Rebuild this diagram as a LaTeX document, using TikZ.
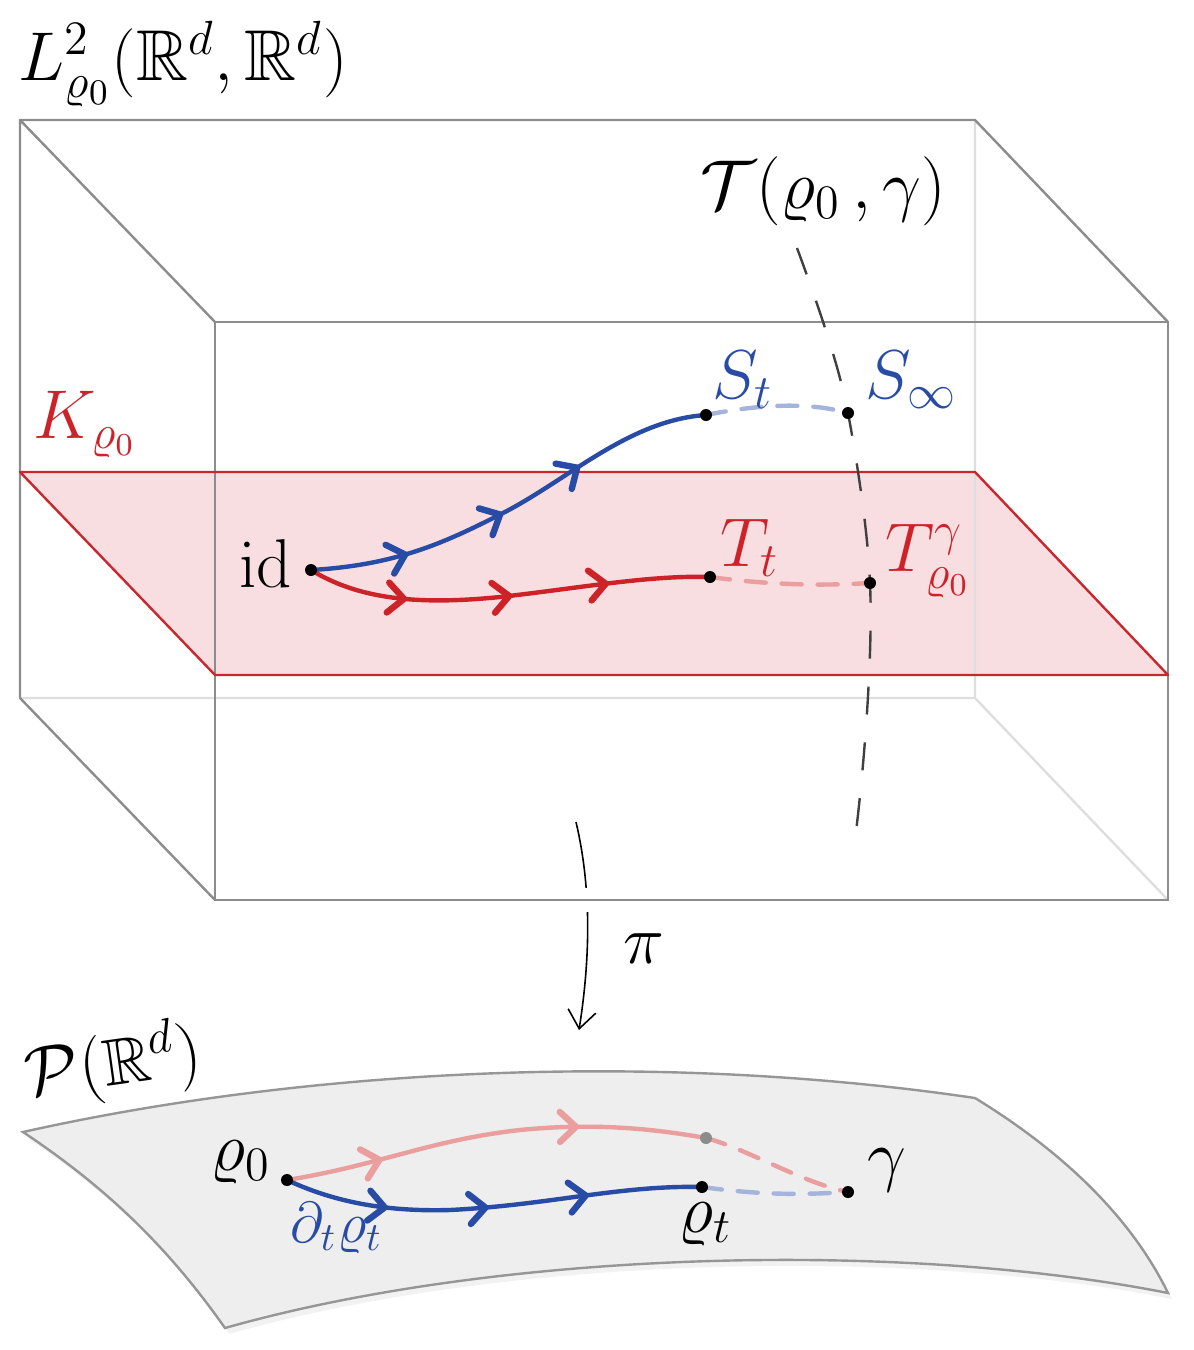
\documentclass[tikz,border=0pt]{standalone}
\usepackage{amssymb}
\usepackage{tikz}
\usetikzlibrary{arrows.meta}
\usetikzlibrary{decorations.markings}
\definecolor{myblue}{RGB}{40,75,165}
\definecolor{myred}{RGB}{205,35,40}
\definecolor{planefill}{RGB}{248,222,224}
\definecolor{planeedge}{RGB}{200,40,45}
\definecolor{ghostblue}{RGB}{165,180,218}
\definecolor{ghostred}{RGB}{234,158,158}
\definecolor{surffill}{RGB}{238,238,238}
\definecolor{surfedge}{RGB}{150,150,150}
\definecolor{boxgray}{RGB}{140,140,140}
\definecolor{boxlight}{RGB}{222,222,222}
\tikzstyle{boxline}=[draw=boxgray,line width=0.6pt]
\tikzstyle{hidline}=[draw=boxlight,line width=0.6pt]
\tikzstyle{flow}=[line width=1.1pt]
\tikzstyle{ghost}=[line width=1.1pt,dash pattern=on 5pt off 4pt,line cap=round]
\tikzstyle{fiber}=[black!75,line width=0.6pt,dash pattern=on 7pt off 7pt]
\tikzstyle{lbl}=[font=\fontsize{16.5}{20}\selectfont,inner sep=0pt]
\tikzset{flowarr/.style={postaction={decorate,decoration={markings,
  mark=at position #1 with {\arrow{Straight Barb[length=4pt,width=7.5pt,line width=1.6pt,round]}}}}}}

\begin{document}
\begin{tikzpicture}[x=0.25pt,y=-0.25pt]
	\useasboundingbox (0,0) rectangle (1193,1350);
	
	% BOX
	\coordinate (A) at (20,120);   % back top left
	\coordinate (B) at (975,120);  % back top right
	\coordinate (C) at (975,698);  % back bottom right
	\coordinate (D) at (20,698);   % back bottom left
	\coordinate (E) at (215,322);  % front top left
	\coordinate (F) at (1168,322); % front top right
	\coordinate (G) at (1168,900); % front bottom right
	\coordinate (H) at (215,900);  % front bottom left
	
	% PLANE K
	\coordinate (P1) at (20,472);
	\coordinate (P2) at (975,472);
	\coordinate (P3) at (1168,675);
	\coordinate (P4) at (215,675);
	\fill[planefill] (P1) -- (P2) -- (P3) -- (P4) -- cycle;
	
	\draw[hidline] (B) -- (C) -- (D) (C) -- (G);
	\draw[boxline] (D) -- (A) -- (B) -- (F) (A) -- (E) (D) -- (H);
	\draw[boxline] (E) rectangle (G);
	\draw[planeedge,line width=0.6pt,line join=round] (P1) -- (P2) -- (P3) -- (P4) -- cycle;
	
	% POINTS
	\coordinate (id) at (311,570);
	\coordinate (St) at (706,415);
	\coordinate (Sinf) at (848,413);
	\coordinate (Tt) at (710,577);
	\coordinate (Tg) at (870,583);
	\coordinate (ftop) at (797,248);
	\coordinate (fbot) at (855,840);
	
	% FIBER
	\draw[fiber] (ftop) .. controls (820,310) and (840,370) .. (Sinf)
	.. controls (856,455) and (868,530) .. (Tg)
	.. controls (873,650) and (865,760) .. (fbot);
	
	% CURVES
	\draw[flow,myblue,flowarr=0.23,flowarr=0.47,flowarr=0.68]
	(id) .. controls (400,565) and (450,540) .. (505,512)
	.. controls (570,478) and (630,420) .. (St);
	\draw[flow,myred,flowarr=0.25,flowarr=0.51,flowarr=0.75]
	(id) .. controls (360,600) and (420,605) .. (500,597)
	.. controls (580,588) and (650,575) .. (Tt);
	\draw[ghost,ghostblue] (St) .. controls (760,404) and (810,402) .. (Sinf);
	\draw[ghost,ghostred] (Tt) .. controls (770,585) and (820,586) .. (Tg);
	
	\foreach \p in {id,St,Sinf,Tt,Tg} \fill (\p) circle (6);
	
	% LABELS
	\node[lbl,anchor=base west] (Llab) at (18,80) {\fontsize{18}{20}\selectfont$L^2_{\varrho_0}(\mathbb{R}^d,\mathbb{R}^d)$};
	\node[lbl,anchor=base west] (Tlab) at (700,208) {$\mathcal{T}(\varrho_0\,,\gamma)$};
	\node[lbl,myblue,anchor=base west] (Stlab) at (712,398) {$S_t$};
	\node[lbl,myblue,anchor=base west] (Sinflab) at (865,398) {$S_\infty$};
	\node[lbl,myred,anchor=base west] (Klab) at (33,438) {$K_{\varrho_0}$};
	\node[lbl,anchor=base east] (idlab) at (293,587) {$\mathrm{id}$};
	\node[lbl,myred,anchor=base west] (Ttlab) at (720,566) {$T_t$};
	\node[lbl,myred,anchor=base west] (Tglab) at (885,571) {$T^\gamma_{\varrho_0}$};
	
	% PROJECTION
	\coordinate (pitop) at (576,822);
	\coordinate (pibot) at (579,1030);
	\draw[line width=0.4pt,-{Straight Barb[length=4.5pt,width=7pt]}] (pitop) .. controls (592,890) and (590,960) .. (pibot);
	\draw[boxline,preaction={draw=white,line width=6pt}] (570,900) -- (605,900);
	\node[lbl,anchor=base west] (pilab) at (623,963) {$\pi$};
	
	% SURFACE P(R^d)
	\fill[black!5,xshift=1pt,yshift=-1.5pt]
	(23,1132) .. controls (300,1070) and (650,1050) .. (975,1098)
	.. controls (1060,1150) and (1130,1215) .. (1168,1293)
	.. controls (900,1240) and (500,1250) .. (225,1328)
	.. controls (170,1250) and (110,1190) .. cycle;
	\draw[draw=surfedge,fill=surffill,line width=0.6pt]
	(23,1132) .. controls (300,1070) and (650,1050) .. (975,1098)
	.. controls (1060,1150) and (1130,1215) .. (1168,1293)
	.. controls (900,1240) and (500,1250) .. (225,1328)
	.. controls (170,1250) and (110,1190) .. cycle;
	\node[lbl,anchor=base west,rotate=8] (Plab) at (28,1097) {$\mathcal{P}(\mathbb{R}^d)$};
	
	\coordinate (r0) at (287,1180);
	\coordinate (rt) at (702,1187);
	\coordinate (rg) at (706,1138);
	\coordinate (gam) at (848,1192);
	
	\draw[flow,ghostred,flowarr=0.23,flowarr=0.70]
	(r0) .. controls (380,1165) and (430,1140) .. (520,1130)
	.. controls (600,1122) and (660,1130) .. (rg);
	\draw[flow,myblue,flowarr=0.25,flowarr=0.49,flowarr=0.73]
	(r0) .. controls (330,1200) and (380,1212) .. (450,1210)
	.. controls (550,1205) and (620,1185) .. (rt);
	\draw[ghost,ghostred] (rg) .. controls (750,1150) and (800,1182) .. (gam);
	\draw[ghost,ghostblue] (rt) .. controls (760,1195) and (800,1195) .. (gam);
	
	\foreach \p in {r0,rt,gam} \fill (\p) circle (6);
	\fill[black!45] (rg) circle (6);
	
	\node[lbl,anchor=base east] (r0lab) at (272,1170) {$\varrho_0$};
	\node[lbl,myblue,anchor=base west,font=\fontsize{14}{16}\selectfont] (dlab) at (290,1242) {$\partial_t\varrho_t$};
	\node[lbl,anchor=base west] (rtlab) at (678,1232) {$\varrho_t$};
	\node[lbl,anchor=base west] (gamlab) at (867,1178) {$\gamma$};
	
\end{tikzpicture}
\end{document}
